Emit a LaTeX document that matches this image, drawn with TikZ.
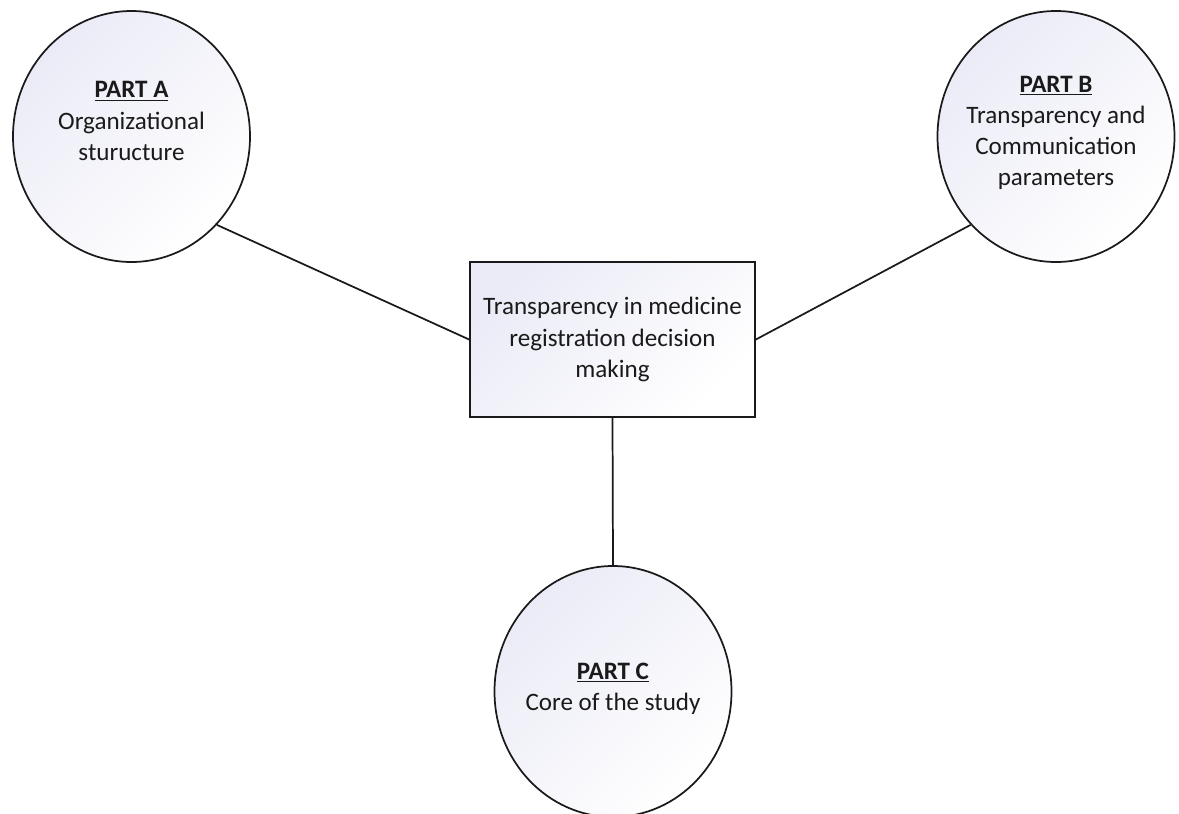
\documentclass[tikz,border=0pt]{standalone}
\usepackage{fontspec}
\setmainfont{Carlito}
\usetikzlibrary{shapes.geometric}
\definecolor{partFill}{HTML}{EAEBF6}
\definecolor{partInk}{HTML}{1A1A1A}

\begin{document}
\begin{tikzpicture}[x=0.75pt, y=-0.75pt,
    partshape/.style={ellipse, draw=partInk, line width=1.3pt, inner sep=0pt,
      minimum width=177.75pt, minimum height=188.25pt,
      top color=partFill, bottom color=white, shading angle=45},
    corebox/.style={rectangle, draw=partInk, line width=1.3pt, inner sep=0pt,
      minimum width=213.75pt, minimum height=116.25pt,
      top color=partFill, bottom color=white, shading angle=45},
    parttext/.style={align=center, text=partInk, font=\fontsize{18.8}{23.3}\selectfont},
    link/.style={draw=partInk, line width=1.3pt}]
  \useasboundingbox (0,0) rectangle (1179,814);
  \clip (0,0) rectangle (1179,814);
  % the three parts round the core
  \node[partshape] (partA) at (131.5,136.5) {};
  \node[partshape] (partB) at (1056,136.5) {};
  \node[partshape] (partC) at (613,691.5) {};
  \node[corebox, parttext] (core) at (612.5,339.5)
    {Transparency in medicine\\registration decision\\making};
  \node[parttext] (textA) at (131.5,121) {\underline{\textbf{PART A}}\\Organizational\\sturucture};
  \node[parttext] (textB) at (1056,133) {\underline{\textbf{PART B}}\\Transparency and\\Communication\\parameters};
  \node[parttext] (textC) at (613,689) {\underline{\textbf{PART C}}\\Core of the study};
  % links
  \draw[link] (partA.-46) -- (core.west);
  \draw[link] (core.east) -- (partB.-134);
  \draw[link] (core.south) -- (partC.north);
\end{tikzpicture}
\end{document}
